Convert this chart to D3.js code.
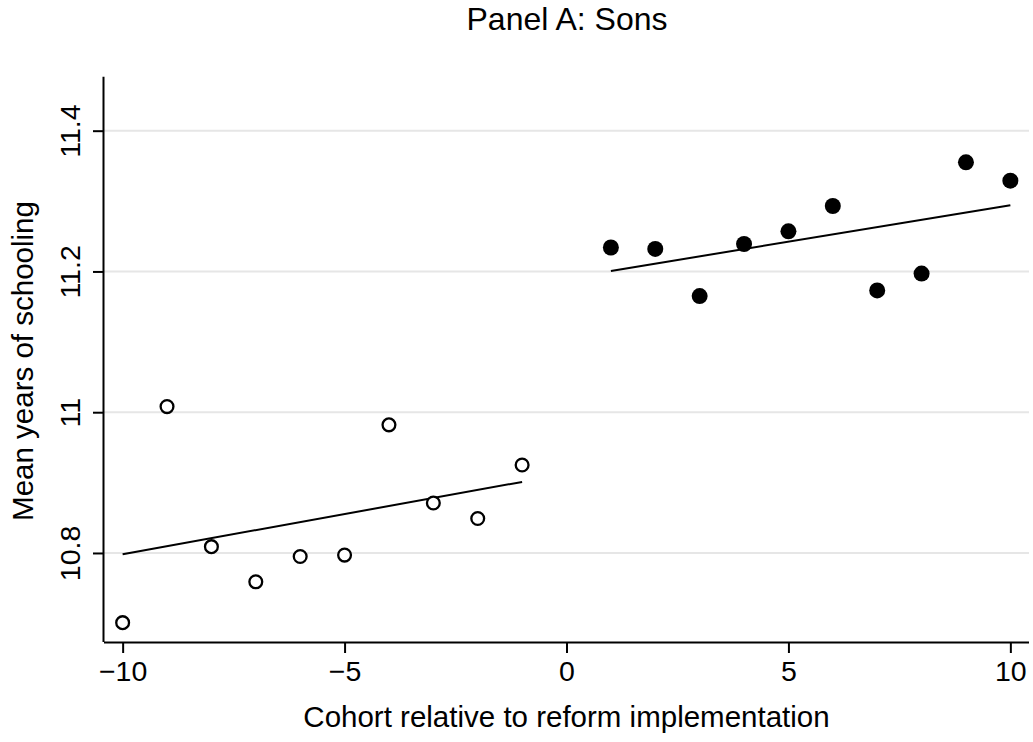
<!DOCTYPE html>
<html>
<head>
<meta charset="utf-8">
<script src="https://cdn.jsdelivr.net/npm/d3@7"></script>
<style>
  html, body { margin: 0; padding: 0; background: #fff; }
  svg { display: block; font-family: "Liberation Sans", Arial, Helvetica, sans-serif; }
</style>
</head>
<body>
<svg id="chart" width="1033" height="742"></svg>
<script>
// ---- Data ----
const cohortsBefore = [-10, -9, -8, -7, -6, -5, -4, -3, -2, -1];
const schoolingBefore = [10.701, 11.008, 10.809, 10.759, 10.795, 10.797, 10.982, 10.871, 10.849, 10.925];
const cohortsAfter = [1, 2, 3, 4, 5, 6, 7, 8, 9, 10];
const schoolingAfter = [11.234, 11.232, 11.165, 11.239, 11.257, 11.293, 11.173, 11.197, 11.355, 11.329];
const xTicks = [-10, -5, 0, 5, 10];
const xTickLabels = ["\u221210", "\u22125", "0", "5", "10"];
const yTicks = [10.8, 11, 11.2, 11.4];
const yTickLabels = ["10.8", "11", "11.2", "11.4"];
const titleText = "Panel A: Sons";
const xTitle = "Cohort relative to reform implementation";
const yTitle = "Mean years of schooling";

// ---- Layout ----
const svg = d3.select("#chart");
const plotLeft = 104, plotRight = 1029, plotTop = 76.7, plotBottom = 642;
const x = d3.scaleLinear().domain([-10.42, 10.42]).range([plotLeft, plotRight]);
const y = d3.scaleLinear().domain([10.6735, 11.4767]).range([plotBottom, plotTop]);
const FONT = '"Liberation Sans", Arial, sans-serif';

// least-squares fit from the data
function fit(xs, ys) {
  const mx = d3.mean(xs), my = d3.mean(ys);
  let sxy = 0, sxx = 0;
  xs.forEach((v, i) => { sxy += (v - mx) * (ys[i] - my); sxx += (v - mx) * (v - mx); });
  const b = sxy / sxx, a = my - b * mx;
  const x0 = d3.min(xs), x1 = d3.max(xs);
  return [[x0, a + b * x0], [x1, a + b * x1]];
}

// gridlines
svg.append("g").selectAll("line").data(yTicks).join("line")
  .attr("x1", plotLeft).attr("x2", plotRight)
  .attr("y1", d => y(d)).attr("y2", d => y(d))
  .attr("stroke", "#e6e6e6").attr("stroke-width", 2);

// axes
const xAxis = svg.append("g").attr("transform", `translate(0,${plotBottom})`)
  .call(d3.axisBottom(x).tickValues(xTicks).tickSize(11).tickSizeOuter(0)
    .tickFormat((d, i) => xTickLabels[i]));
xAxis.select(".domain").attr("stroke", "#000").attr("stroke-width", 2)
  .attr("d", `M${plotLeft},0.5H${plotRight}`);
xAxis.selectAll(".tick line").attr("stroke", "#000").attr("stroke-width", 2);
xAxis.selectAll(".tick text").attr("y", 39).attr("dy", null)
  .attr("font-size", 28.5).attr("fill", "#000")
  .style("font-family", FONT);

const yAxis = svg.append("g").attr("transform", `translate(${plotLeft},0)`)
  .call(d3.axisLeft(y).tickValues(yTicks).tickSize(11).tickSizeOuter(0)
    .tickFormat((d, i) => yTickLabels[i]));
yAxis.select(".domain").attr("stroke", "#000").attr("stroke-width", 2)
  .attr("d", `M-0.5,${plotTop}V${plotBottom}`);
yAxis.selectAll(".tick line").attr("stroke", "#000").attr("stroke-width", 2);
yAxis.selectAll(".tick text")
  .attr("x", null).attr("dy", null).attr("y", null)
  .attr("transform", "translate(-24,0) rotate(-90)")
  .attr("text-anchor", "middle")
  .attr("font-size", 28.5).attr("fill", "#000")
  .style("font-family", FONT);

// fit lines
const line = d3.line().x(d => x(d[0])).y(d => y(d[1]));
svg.append("path").attr("d", line(fit(cohortsBefore, schoolingBefore)))
  .attr("stroke", "#000").attr("stroke-width", 2).attr("fill", "none");
svg.append("path").attr("d", line(fit(cohortsAfter, schoolingAfter)))
  .attr("stroke", "#000").attr("stroke-width", 2).attr("fill", "none");

// points
svg.append("g").selectAll("circle").data(cohortsBefore).join("circle")
  .attr("cx", d => x(d)).attr("cy", (d, i) => y(schoolingBefore[i]))
  .attr("r", 6.4).attr("fill", "#fff").attr("stroke", "#000").attr("stroke-width", 2.3);
svg.append("g").selectAll("circle").data(cohortsAfter).join("circle")
  .attr("cx", d => x(d)).attr("cy", (d, i) => y(schoolingAfter[i]))
  .attr("r", 8).attr("fill", "#000");

// titles
svg.append("text").attr("x", 567).attr("y", 29.5).attr("text-anchor", "middle")
  .attr("font-size", 32).text(titleText);
svg.append("text").attr("x", (plotLeft + plotRight) / 2).attr("y", 727)
  .attr("text-anchor", "middle").attr("font-size", 29.5).text(xTitle);
svg.append("text").attr("transform", `translate(32.5,361) rotate(-90)`)
  .attr("text-anchor", "middle").attr("font-size", 29.5).text(yTitle);
</script>
</body>
</html>
